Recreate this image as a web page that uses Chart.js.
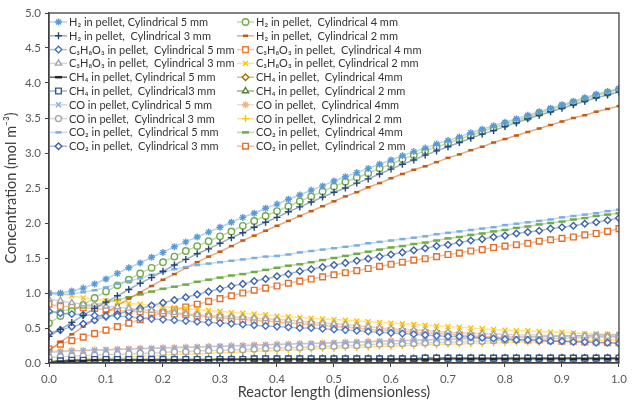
<!DOCTYPE html>
<html>
<head>
<meta charset="utf-8">
<script src="https://cdn.jsdelivr.net/npm/chart.js@4.4.1/dist/chart.umd.min.js"></script>
<style>
  html, body { margin: 0; padding: 0; background: #fff; }
  #wrap { width: 632px; height: 401px; }
</style>
</head>
<body>
<div id="wrap"><canvas id="concChart" width="632" height="401"></canvas></div>
<script>
// reactor length (dimensionless), one point every 0.02
const lengths = [0, 0.02, 0.04, 0.06, 0.08, 0.1, 0.12, 0.14, 0.16, 0.18, 0.2, 0.22, 0.24, 0.26, 0.28, 0.3, 0.32, 0.34, 0.36, 0.38, 0.4,
  0.42, 0.44, 0.46, 0.48, 0.5, 0.52, 0.54, 0.56, 0.58, 0.6, 0.62, 0.64, 0.66, 0.68, 0.7, 0.72, 0.74, 0.76, 0.78, 0.8,
  0.82, 0.84, 0.86, 0.88, 0.9, 0.92, 0.94, 0.96, 0.98, 1];

// H2
const h2_5 = [1.00, 1.00, 1.03, 1.07, 1.13, 1.20, 1.28, 1.36, 1.43, 1.51, 1.58, 1.66, 1.73, 1.80, 1.87, 1.94, 2.01, 2.08, 2.14, 2.21, 2.27,
  2.34, 2.40, 2.47, 2.53, 2.60, 2.66, 2.72, 2.78, 2.84, 2.90, 2.96, 3.02, 3.07, 3.13, 3.18, 3.23, 3.29, 3.34, 3.39, 3.44,
  3.49, 3.54, 3.59, 3.64, 3.69, 3.74, 3.79, 3.84, 3.88, 3.92];
const h2_3 = [0.38, 0.48, 0.58, 0.68, 0.78, 0.87, 0.96, 1.05, 1.14, 1.22, 1.31, 1.40, 1.48, 1.56, 1.63, 1.71, 1.79, 1.86, 1.94, 2.01, 2.08,
  2.16, 2.23, 2.30, 2.37, 2.44, 2.50, 2.57, 2.63, 2.70, 2.77, 2.84, 2.90, 2.97, 3.03, 3.09, 3.15, 3.21, 3.27, 3.32, 3.38,
  3.43, 3.49, 3.54, 3.59, 3.64, 3.69, 3.74, 3.79, 3.83, 3.87];
const h2_4 = [0.57, 0.67, 0.74, 0.83, 0.93, 1.02, 1.11, 1.19, 1.28, 1.36, 1.44, 1.52, 1.60, 1.67, 1.74, 1.81, 1.88, 1.96, 2.03, 2.10, 2.17,
  2.24, 2.31, 2.38, 2.45, 2.52, 2.59, 2.65, 2.71, 2.78, 2.84, 2.91, 2.97, 3.03, 3.09, 3.14, 3.20, 3.25, 3.31, 3.36, 3.41,
  3.46, 3.51, 3.57, 3.62, 3.67, 3.72, 3.77, 3.82, 3.86, 3.91];
const h2_2 = [0.18, 0.30, 0.41, 0.52, 0.62, 0.72, 0.82, 0.92, 1.01, 1.10, 1.19, 1.27, 1.36, 1.44, 1.52, 1.59, 1.67, 1.75, 1.82, 1.89, 1.96,
  2.03, 2.10, 2.17, 2.24, 2.31, 2.38, 2.44, 2.51, 2.57, 2.64, 2.70, 2.76, 2.81, 2.87, 2.93, 2.98, 3.04, 3.09, 3.15, 3.20,
  3.25, 3.30, 3.35, 3.40, 3.45, 3.50, 3.54, 3.59, 3.63, 3.67];

// C3H8O3
const gly_5 = [0.74, 0.71, 0.70, 0.69, 0.68, 0.67, 0.67, 0.66, 0.64, 0.63, 0.62, 0.61, 0.60, 0.59, 0.58, 0.57, 0.56, 0.55, 0.54, 0.53, 0.52,
  0.51, 0.50, 0.50, 0.49, 0.48, 0.47, 0.46, 0.45, 0.44, 0.43, 0.42, 0.41, 0.40, 0.39, 0.38, 0.38, 0.37, 0.36, 0.35, 0.34,
  0.33, 0.33, 0.32, 0.31, 0.31, 0.30, 0.30, 0.29, 0.29, 0.28];
const gly_3 = [0.91, 0.89, 0.86, 0.84, 0.83, 0.81, 0.80, 0.78, 0.76, 0.75, 0.73, 0.72, 0.70, 0.69, 0.68, 0.67, 0.66, 0.65, 0.64, 0.63, 0.62,
  0.61, 0.60, 0.58, 0.57, 0.56, 0.55, 0.53, 0.52, 0.50, 0.49, 0.48, 0.47, 0.46, 0.45, 0.44, 0.43, 0.42, 0.42, 0.41, 0.41,
  0.40, 0.40, 0.40, 0.39, 0.39, 0.39, 0.39, 0.38, 0.38, 0.38];
const gly_4 = [0.84, 0.81, 0.80, 0.79, 0.78, 0.76, 0.75, 0.74, 0.73, 0.72, 0.71, 0.70, 0.69, 0.67, 0.66, 0.65, 0.63, 0.62, 0.61, 0.60, 0.59,
  0.57, 0.56, 0.55, 0.54, 0.52, 0.51, 0.50, 0.48, 0.47, 0.46, 0.45, 0.44, 0.43, 0.42, 0.41, 0.40, 0.39, 0.38, 0.37, 0.35,
  0.34, 0.33, 0.33, 0.32, 0.31, 0.31, 0.30, 0.30, 0.29, 0.29];
const gly_2 = [1.00, 0.99, 0.96, 0.93, 0.91, 0.89, 0.87, 0.85, 0.84, 0.82, 0.81, 0.79, 0.78, 0.76, 0.75, 0.74, 0.72, 0.71, 0.70, 0.69, 0.67,
  0.66, 0.65, 0.64, 0.63, 0.62, 0.61, 0.60, 0.59, 0.58, 0.57, 0.56, 0.55, 0.54, 0.53, 0.52, 0.51, 0.50, 0.49, 0.48, 0.47,
  0.46, 0.46, 0.45, 0.44, 0.44, 0.43, 0.42, 0.42, 0.41, 0.40];

// CH4
const ch4_5 = [0.00, 0.02, 0.03, 0.03, 0.04, 0.04, 0.04, 0.04, 0.04, 0.04, 0.04, 0.04, 0.04, 0.04, 0.04, 0.05, 0.05, 0.05, 0.05, 0.05, 0.05,
  0.05, 0.05, 0.05, 0.05, 0.05, 0.05, 0.05, 0.05, 0.05, 0.05, 0.05, 0.05, 0.05, 0.05, 0.06, 0.06, 0.06, 0.06, 0.06, 0.06,
  0.06, 0.06, 0.06, 0.06, 0.06, 0.06, 0.06, 0.06, 0.06, 0.06];
const ch4_3 = [0.01, 0.03, 0.04, 0.04, 0.05, 0.05, 0.05, 0.05, 0.05, 0.05, 0.05, 0.05, 0.05, 0.05, 0.05, 0.05, 0.05, 0.05, 0.06, 0.06, 0.06,
  0.06, 0.06, 0.06, 0.06, 0.06, 0.06, 0.06, 0.06, 0.06, 0.06, 0.06, 0.06, 0.07, 0.07, 0.07, 0.07, 0.07, 0.07, 0.07, 0.07,
  0.07, 0.07, 0.07, 0.07, 0.07, 0.07, 0.07, 0.07, 0.07, 0.07];
const ch4_4 = [0.01, 0.03, 0.04, 0.04, 0.04, 0.05, 0.05, 0.05, 0.05, 0.05, 0.05, 0.05, 0.05, 0.05, 0.05, 0.05, 0.05, 0.05, 0.05, 0.05, 0.06,
  0.06, 0.06, 0.06, 0.06, 0.06, 0.06, 0.06, 0.06, 0.06, 0.06, 0.06, 0.06, 0.06, 0.06, 0.06, 0.06, 0.06, 0.06, 0.06, 0.06,
  0.06, 0.06, 0.06, 0.06, 0.07, 0.07, 0.07, 0.07, 0.07, 0.07];
const ch4_2 = [0.02, 0.03, 0.04, 0.05, 0.05, 0.05, 0.05, 0.05, 0.05, 0.05, 0.05, 0.05, 0.05, 0.05, 0.05, 0.06, 0.06, 0.06, 0.06, 0.06, 0.06,
  0.06, 0.06, 0.06, 0.06, 0.06, 0.06, 0.06, 0.06, 0.06, 0.06, 0.06, 0.06, 0.07, 0.07, 0.07, 0.07, 0.07, 0.07, 0.07, 0.07,
  0.07, 0.07, 0.07, 0.07, 0.07, 0.07, 0.07, 0.07, 0.07, 0.07];

// CO
const co_5 = [0.15, 0.16, 0.17, 0.18, 0.18, 0.19, 0.19, 0.20, 0.20, 0.21, 0.21, 0.22, 0.22, 0.23, 0.23, 0.24, 0.24, 0.25, 0.25, 0.26, 0.26,
  0.27, 0.27, 0.28, 0.28, 0.29, 0.29, 0.30, 0.30, 0.31, 0.31, 0.32, 0.32, 0.33, 0.33, 0.34, 0.34, 0.35, 0.35, 0.36, 0.36,
  0.37, 0.37, 0.38, 0.38, 0.38, 0.39, 0.39, 0.40, 0.40, 0.41];
const co_3 = [0.08, 0.09, 0.10, 0.10, 0.11, 0.12, 0.12, 0.13, 0.14, 0.14, 0.15, 0.16, 0.16, 0.17, 0.18, 0.18, 0.19, 0.19, 0.20, 0.21, 0.21,
  0.22, 0.22, 0.23, 0.24, 0.24, 0.25, 0.25, 0.26, 0.27, 0.27, 0.28, 0.28, 0.29, 0.29, 0.30, 0.30, 0.31, 0.31, 0.32, 0.33,
  0.33, 0.34, 0.34, 0.35, 0.35, 0.36, 0.36, 0.37, 0.37, 0.38];
const co_4 = [0.17, 0.17, 0.18, 0.18, 0.19, 0.19, 0.20, 0.20, 0.21, 0.21, 0.22, 0.22, 0.23, 0.23, 0.24, 0.24, 0.25, 0.25, 0.26, 0.26, 0.27,
  0.27, 0.28, 0.28, 0.29, 0.29, 0.30, 0.30, 0.31, 0.31, 0.32, 0.32, 0.33, 0.33, 0.34, 0.34, 0.35, 0.35, 0.36, 0.36, 0.37,
  0.37, 0.37, 0.38, 0.38, 0.39, 0.39, 0.39, 0.40, 0.40, 0.40];
const co_2 = [0.02, 0.04, 0.05, 0.06, 0.07, 0.07, 0.08, 0.09, 0.10, 0.10, 0.11, 0.12, 0.13, 0.13, 0.14, 0.15, 0.15, 0.16, 0.17, 0.17, 0.18,
  0.19, 0.19, 0.20, 0.21, 0.21, 0.22, 0.22, 0.23, 0.24, 0.24, 0.25, 0.25, 0.26, 0.26, 0.27, 0.27, 0.28, 0.28, 0.29, 0.29,
  0.30, 0.30, 0.30, 0.31, 0.31, 0.32, 0.32, 0.32, 0.33, 0.33];

// CO2
const co2_5 = [0.98, 0.98, 0.99, 1.01, 1.04, 1.08, 1.13, 1.17, 1.21, 1.26, 1.30, 1.34, 1.37, 1.40, 1.42, 1.44, 1.46, 1.48, 1.50, 1.52, 1.53,
  1.55, 1.58, 1.60, 1.62, 1.64, 1.66, 1.68, 1.71, 1.73, 1.75, 1.77, 1.79, 1.81, 1.84, 1.86, 1.88, 1.90, 1.92, 1.94, 1.97,
  1.99, 2.01, 2.03, 2.05, 2.08, 2.10, 2.12, 2.14, 2.17, 2.19];
const co2_3 = [0.43, 0.47, 0.52, 0.56, 0.61, 0.66, 0.70, 0.74, 0.78, 0.82, 0.86, 0.90, 0.94, 0.98, 1.02, 1.06, 1.10, 1.13, 1.17, 1.20, 1.24,
  1.27, 1.31, 1.34, 1.37, 1.40, 1.43, 1.46, 1.49, 1.52, 1.55, 1.58, 1.61, 1.64, 1.67, 1.69, 1.72, 1.75, 1.77, 1.80, 1.82,
  1.85, 1.87, 1.89, 1.92, 1.94, 1.96, 1.99, 2.01, 2.04, 2.07];
const co2_4 = [0.72, 0.74, 0.77, 0.80, 0.83, 0.87, 0.90, 0.94, 0.98, 1.02, 1.06, 1.09, 1.12, 1.16, 1.19, 1.22, 1.25, 1.27, 1.30, 1.33, 1.36,
  1.39, 1.41, 1.44, 1.47, 1.50, 1.53, 1.56, 1.59, 1.62, 1.65, 1.67, 1.70, 1.72, 1.75, 1.78, 1.80, 1.83, 1.85, 1.88, 1.90,
  1.93, 1.95, 1.98, 2.00, 2.02, 2.05, 2.07, 2.10, 2.12, 2.14];
const co2_2 = [0.20, 0.27, 0.32, 0.37, 0.42, 0.47, 0.52, 0.57, 0.62, 0.67, 0.72, 0.76, 0.80, 0.84, 0.88, 0.92, 0.96, 1.00, 1.04, 1.07, 1.10,
  1.14, 1.17, 1.20, 1.23, 1.26, 1.29, 1.32, 1.35, 1.38, 1.41, 1.44, 1.47, 1.49, 1.52, 1.55, 1.57, 1.60, 1.62, 1.65, 1.67,
  1.69, 1.71, 1.74, 1.76, 1.78, 1.80, 1.83, 1.85, 1.88, 1.92];

const yTicks = [0, 0.5, 1, 1.5, 2, 2.5, 3, 3.5, 4, 4.5, 5];

// legend order: first column then second column
const series = [
  { label: 'H₂ in pellet, Cylindrical 5 mm', values: h2_5, color: '#5B9BD5', line: 'rgba(91,155,213,0.45)', style: 'star', r: 3.5 },
  { label: 'H₂ in pellet,  Cylindrical 3 mm', values: h2_3, color: '#264478', line: 'rgba(38,68,120,0.45)', style: 'cross', r: 3.5 },
  { label: 'C₃H₈O₃ in pellet,  Cylindrical 5 mm', values: gly_5, color: '#4472C4', line: 'rgba(68,114,196,0.45)', style: 'rectRot', r: 3.3 },
  { label: 'C₃H₈O₃ in pellet,  Cylindrical 3 mm', values: gly_3, color: '#A5A5A5', line: 'rgba(165,165,165,0.45)', style: 'triangle', r: 3.5 },
  { label: 'CH₄ in pellet, Cylindrical 5 mm', values: ch4_5, color: '#262626', line: 'rgba(38,38,38,0.7)', style: 'line', r: 3.5 },
  { label: 'CH₄ in pellet,  Cylindrical3 mm', values: ch4_3, color: '#2F5597', line: 'rgba(47,85,151,0.45)', style: 'rect', r: 4 },
  { label: 'CO in pellet, Cylindrical 5 mm', values: co_5, color: '#8FAADC', line: 'rgba(143,170,220,0.45)', style: 'crossRot', r: 3.5 },
  { label: 'CO in pellet,  Cylindrical 3 mm', values: co_3, color: '#A5A5A5', line: 'rgba(165,165,165,0.45)', style: 'circle', r: 3 },
  { label: 'CO₂ in pellet,  Cylindrical 5 mm', values: co2_5, color: '#7CAFDD', line: 'rgba(124,175,221,0.45)', style: 'line', r: 3 },
  { label: 'CO₂ in pellet,  Cylindrical 3 mm', values: co2_3, color: '#3A62AE', line: 'rgba(58,98,174,0.45)', style: 'rectRot', r: 3.3 },
  { label: 'H₂ in pellet,  Cylindrical 4 mm', values: h2_4, color: '#70AD47', line: 'rgba(112,173,71,0.45)', style: 'circle', r: 3.2 },
  { label: 'H₂ in pellet,  Cylindrical 2 mm', values: h2_2, color: '#C55A11', line: 'rgba(197,90,17,0.5)', style: 'line', r: 2.5 },
  { label: 'C₃H₈O₃ in pellet,  Cylindrical 4 mm', values: gly_4, color: '#ED7D31', line: 'rgba(237,125,49,0.45)', style: 'rect', r: 4 },
  { label: 'C₃H₈O₃ in pellet, Cylindrical 2 mm', values: gly_2, color: '#FFC000', line: 'rgba(255,192,0,0.45)', style: 'crossRot', r: 3.5 },
  { label: 'CH₄ in pellet,  Cylindrical 4mm', values: ch4_4, color: '#997300', line: 'rgba(153,115,0,0.45)', style: 'rectRot', r: 3.3 },
  { label: 'CH₄ in pellet,  Cylindrical 2 mm', values: ch4_2, color: '#548235', line: 'rgba(84,130,53,0.6)', style: 'triangle', r: 3.5 },
  { label: 'CO in pellet,  Cylindrical 4mm', values: co_4, color: '#F4B183', line: 'rgba(244,177,131,0.5)', style: 'star', r: 3.5 },
  { label: 'CO in pellet,  Cylindrical 2 mm', values: co_2, color: '#FFC000', line: 'rgba(255,192,0,0.45)', style: 'cross', r: 3.5 },
  { label: 'CO₂ in pellet,  Cylindrical 4mm', values: co2_4, color: '#70AD47', line: 'rgba(112,173,71,0.45)', style: 'line', r: 3.5 },
  { label: 'CO₂ in pellet,  Cylindrical 2 mm', values: co2_2, color: '#E2702A', line: 'rgba(226,112,42,0.45)', style: 'rect', r: 4 }
];

// frame round the plot area and the two-column legend inside it
const plotFrame = {
  id: 'plotFrame',
  afterDraw(chart) {
    const { ctx, chartArea: a } = chart;
    ctx.save();
    ctx.strokeStyle = '#404040';
    ctx.lineWidth = 1.3;
    ctx.strokeRect(a.left, a.top, a.right - a.left, a.bottom - a.top);

    ctx.font = '11px Lato, "Noto Sans", sans-serif';
    ctx.textBaseline = 'middle';
    chart.data.datasets.forEach((ds, i) => {
      const x0 = i < 10 ? 50 : 237;
      const y = 22 + (i % 10) * 13.8;
      ctx.strokeStyle = ds.borderColor;
      ctx.lineWidth = ds.borderWidth;
      ctx.beginPath();
      ctx.moveTo(x0, y);
      ctx.lineTo(x0 + 17, y);
      ctx.stroke();
      ctx.strokeStyle = ds.pointBorderColor;
      ctx.fillStyle = ds.pointBackgroundColor;
      ctx.lineWidth = ds.pointBorderWidth;
      Chart.helpers.drawPoint(ctx, {
        pointStyle: ds.pointStyle, radius: ds.pointRadius, borderWidth: ds.pointBorderWidth, rotation: 0
      }, x0 + 8.5, y);
      ctx.fillStyle = '#333333';
      ctx.fillText(ds.label, x0 + 19, y + 0.5);
    });
    ctx.restore();
  }
};

const axisFont = { family: 'Lato, "Noto Sans", sans-serif', size: 11.5 };
const titleFont = { family: 'Lato, "Noto Sans", sans-serif', size: 14.5 };

new Chart(document.getElementById('concChart'), {
  type: 'line',
  data: {
    datasets: series.map(s => ({
      label: s.label,
      data: lengths.map((x, i) => ({ x, y: s.values[i] })),
      borderColor: s.line,
      borderWidth: 1.5,
      pointStyle: s.style,
      pointRadius: s.r,
      pointBorderColor: s.color,
      pointBackgroundColor: s.style === 'line' ? s.color : '#ffffff',
      pointBorderWidth: s.style === 'line' ? 2.5 : 1.4,
      tension: 0,
      fill: false
    }))
  },
  options: {
    responsive: false,
    animation: false,
    devicePixelRatio: 1,
    layout: { padding: { top: 13, right: 9, left: 0, bottom: 0 } },
    plugins: {
      legend: { display: false },
      tooltip: { enabled: false }
    },
    scales: {
      x: {
        type: 'linear',
        min: 0,
        max: 1,
        ticks: { stepSize: 0.1, callback: v => v.toFixed(1), color: '#595959', font: axisFont, padding: 5, maxRotation: 0 },
        grid: { drawOnChartArea: false, tickLength: 4, color: '#404040' },
        border: { color: '#404040', width: 1.3 },
        title: {
          display: true,
          text: 'Reactor length (dimensionless)',
          color: '#404040',
          font: titleFont,
          padding: { top: 0, bottom: 0 }
        },
        afterFit: s => { s.height = 38; }
      },
      y: {
        min: 0,
        max: 5,
        afterBuildTicks: s => { s.ticks = yTicks.map(v => ({ value: v })); },
        ticks: { callback: v => v.toFixed(1), color: '#595959', font: axisFont, padding: 4 },
        grid: { drawOnChartArea: false, tickLength: 4, color: '#404040' },
        border: { color: '#404040', width: 1.3 },
        title: {
          display: true,
          text: 'Concentration (mol m⁻³)',
          color: '#404040',
          font: titleFont,
          padding: { top: 3, bottom: 2 }
        },
        afterFit: s => { s.width = 49; }
      }
    }
  },
  plugins: [plotFrame]
});
</script>
</body>
</html>
